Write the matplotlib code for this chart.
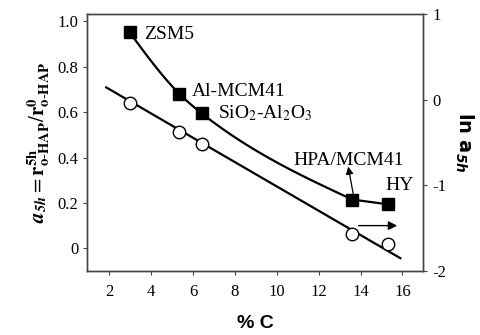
import numpy as np
import matplotlib
matplotlib.use("Agg")
import matplotlib.pyplot as plt

plt.rcParams['font.family'] = ['Liberation Serif', 'DejaVu Serif']
plt.rcParams['axes.unicode_minus'] = False

# ---- data ----
carbon = [2.97, 5.34, 6.42, 13.6, 15.29]            # % C
a5h = [0.951, 0.681, 0.594, 0.215, 0.194]           # left axis, filled squares
ln_a5h = [-0.035, -0.373, -0.52, -1.57, -1.68]      # right axis, open circles
names = ["ZSM5", "Al-MCM41", r"SiO$_2$-Al$_2$O$_3$", "HPA/MCM41", "HY"]
ln_line_x = [1.85, 15.9]                             # straight trend line (right axis)
ln_line_y = [0.144, -1.85]

xticks = [2, 4, 6, 8, 10, 12, 14, 16]
lticks = [0, 0.2, 0.4, 0.6, 0.8, 1.0]
lticklabels = ["0", "0.2", "0.4", "0.6", "0.8", "1.0"]
rticks = [-2, -1, 0, 1]


def natural_spline(x, y, xs):
    x = np.asarray(x, float); y = np.asarray(y, float)
    n = len(x)
    h = np.diff(x)
    A = np.zeros((n, n)); b = np.zeros(n)
    A[0, 0] = 1; A[-1, -1] = 1
    for i in range(1, n - 1):
        A[i, i - 1] = h[i - 1]
        A[i, i] = 2 * (h[i - 1] + h[i])
        A[i, i + 1] = h[i]
        b[i] = 3 * ((y[i + 1] - y[i]) / h[i] - (y[i] - y[i - 1]) / h[i - 1])
    c = np.linalg.solve(A, b)
    out = np.empty_like(xs)
    for k, xv in enumerate(xs):
        i = min(max(np.searchsorted(x, xv) - 1, 0), n - 2)
        bi = (y[i + 1] - y[i]) / h[i] - h[i] * (2 * c[i] + c[i + 1]) / 3
        di = (c[i + 1] - c[i]) / (3 * h[i])
        t = xv - x[i]
        out[k] = y[i] + bi * t + c[i] * t ** 2 + di * t ** 3
    return out


fig = plt.figure(figsize=(4.8, 3.35), dpi=100)
ax = fig.add_axes([0.182, 0.191, 0.700, 0.767])
ax2 = ax.twinx()

# smooth curve through the first four squares, then a short segment to the last
xs = np.linspace(carbon[0], carbon[3], 200)
curve_x = np.concatenate([xs, [carbon[4]]])
curve_y = np.concatenate([natural_spline(carbon[:4], a5h[:4], xs), [a5h[4]]])
ax.plot(curve_x, curve_y, color='black', lw=1.6, zorder=2,
        solid_joinstyle='round')
ax.plot(carbon, a5h, linestyle='none', marker='s', ms=9, color='black', zorder=3)

ax2.plot(ln_line_x, ln_line_y, color='black', lw=1.6, zorder=2)
ax2.plot(carbon, ln_a5h, linestyle='none', marker='o', ms=9, mfc='white',
         mec='black', mew=1.0, zorder=3)

ax.set_xlim(0.95, 17.0)
ax.set_ylim(-0.1, 1.032)
ax2.set_ylim(-2, 1)

ax.set_xticks(xticks)
ax.set_yticks(lticks)
ax.set_yticklabels(lticklabels)
ax2.set_yticks(rticks)
ax2.set_yticklabels([str(v) for v in rticks])

for a in (ax, ax2):
    a.tick_params(direction='out', length=3, width=0.8, labelsize=12, color='#444')
    for s in a.spines.values():
        s.set_linewidth(1.0)
        s.set_color('#444')
ax.tick_params(axis='x', pad=6)

# point labels
lab_pos = [(3.65, 0.94), (5.95, 0.69), (7.2, 0.595), (10.8, 0.385), (15.2, 0.275)]
for (tx, ty), nm in zip(lab_pos, names):
    ax.text(tx, ty, nm, fontsize=14, va='center', ha='left', math_fontfamily='stix')

# arrows
ax.annotate('', xy=(13.41, 0.36), xytext=(13.65, 0.24),
            arrowprops=dict(arrowstyle='-|>', color='black', lw=0.9,
                            mutation_scale=11, shrinkA=0, shrinkB=0))
ax.annotate('', xy=(15.75, 0.10), xytext=(13.9, 0.10),
            arrowprops=dict(arrowstyle='-|>', color='black', lw=1.0,
                            mutation_scale=13, shrinkA=0, shrinkB=0))

ax.set_xlabel('% C', fontsize=14, fontweight='bold', family='Liberation Sans',
              labelpad=11)
ax.set_ylabel(r'$\mathbfit{a}_{\mathbfit{5h}} = \mathbf{r}^{\mathbf{5h}}_{\mathbf{o\text{-}HAP}}/\mathbf{r}^{\mathbf{0}}_{\mathbf{o\text{-}HAP}}$',
              fontsize=15, math_fontfamily='stix', labelpad=4)
ax2.set_ylabel(r'$\mathbf{ln\ a}_{\mathbfit{5h}}$', fontsize=14,
               math_fontfamily='dejavusans', rotation=-90, labelpad=21)

fig.savefig('out.png', dpi=100)
